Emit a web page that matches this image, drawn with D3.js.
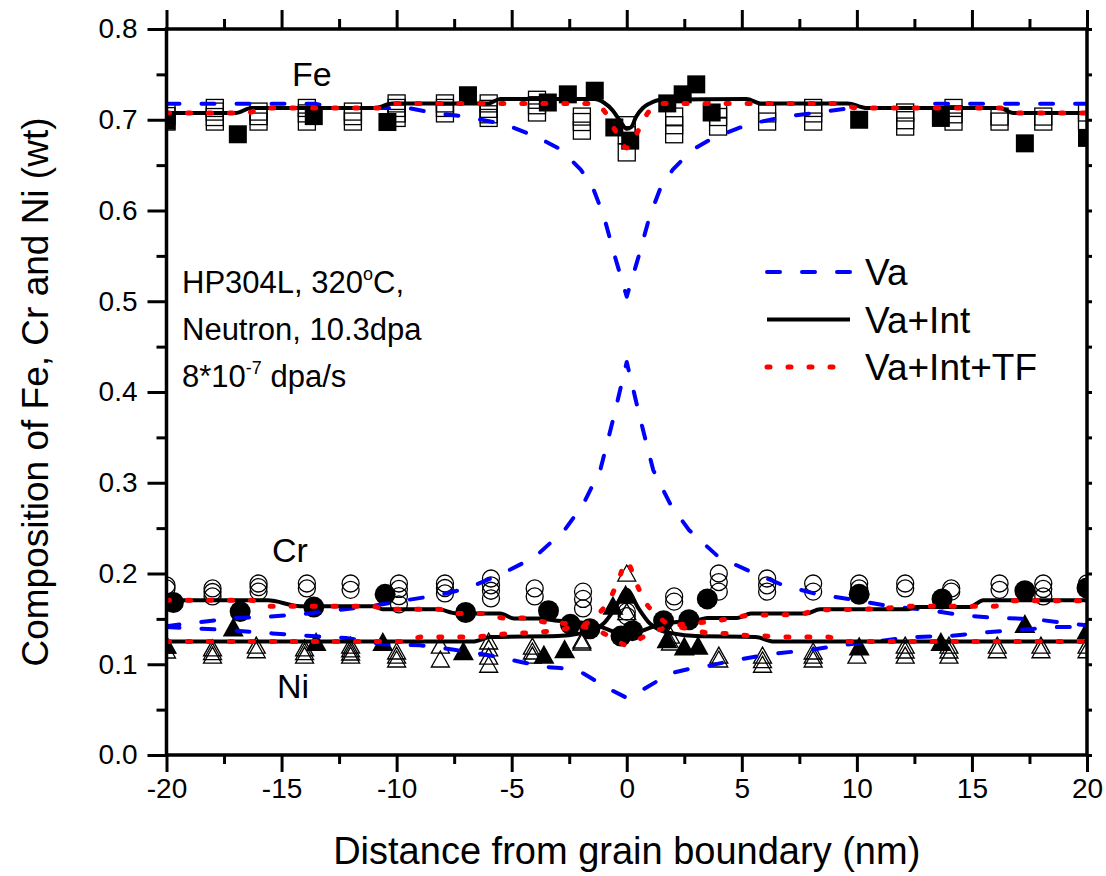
<!DOCTYPE html>
<html>
<head>
<meta charset="utf-8">
<script src="https://cdn.jsdelivr.net/npm/d3@7/dist/d3.min.js"></script>
<style>
  html, body { margin: 0; padding: 0; background: #fff; }
  svg text { font-family: "Liberation Sans", Arial, Helvetica, sans-serif; fill: #000; }
</style>
</head>
<body>
<svg id="chart" width="1106" height="876"></svg>
<script>
// ---- axis ticks ----
const xMajor = [-20, -15, -10, -5, 0, 5, 10, 15, 20];
const xMinor = [-17.5, -12.5, -7.5, -2.5, 2.5, 7.5, 12.5, 17.5];
const yMajor = [0, 0.1, 0.2, 0.3, 0.4, 0.5, 0.6, 0.7, 0.8];
const yMinor = [0.05, 0.15, 0.25, 0.35, 0.45, 0.55, 0.65, 0.75];

// ---- model profiles: [distance (nm), composition] ----
const feVa = [[-20,.7175],[-13.5,.7175],[-12.8,.713],[-9.5,.713],[-8.5,.708],[-6.9,.703],[-5.3,.695],[-3.9,.681],[-3,.669],[-2.5,.658],[-2,.645],[-1.5,.627],[-1,.594],[-0.5,.548],[0,.505],
  [0.5,.548],[1,.594],[1.5,.627],[2,.645],[2.5,.658],[3,.669],[3.75,.68],[5.3,.695],[6.8,.703],[8.3,.708],[9.8,.713],[12.4,.713],[13.3,.7175],[20,.7175]];
const feInt = [[-20,.7075],[-17,.7075],[-16.3,.713],[-10.9,.713],[-10.2,.718],[-6,.718],[-5.5,.723],[-1.4,.723],[-1,.719],[-0.6,.71],[-0.3,.699],[0,.69],[0.2,.692],[0.4,.703],[0.7,.713],[1,.718],[1.5,.722],[5.2,.723],[5.8,.718],[9.6,.718],[10.4,.713],[16.2,.713],[16.8,.7075],[20,.7075]];
const feTF = [[-20,.7075],[-16.5,.7075],[-15.8,.713],[-10.8,.713],[-10.2,.718],[-1.5,.718],[-0.9,.707],[-0.5,.688],[0,.669],[0.5,.688],[0.9,.707],[1.5,.718],[9.2,.718],[10,.713],[16.2,.713],[16.9,.7075],[20,.7075]];

const crVa = [[-20,.142],[-18.7,.146],[-17,.151],[-15.8,.152],[-14.2,.155],[-12.5,.16],[-11.3,.163],[-10,.169],[-8.2,.176],[-6.9,.184],[-5.4,.2],[-4,.218],[-2.7,.248],[-1.9,.276],[-1.15,.314],[-0.6,.369],[0,.433],
  [0.6,.369],[1.15,.314],[1.9,.276],[2.7,.248],[4,.218],[5.3,.203],[6.8,.187],[8.3,.177],[9.9,.171],[11.4,.164],[13,.16],[14.6,.154],[16,.151],[17.6,.15],[19.2,.145],[20,.143]];
const crInt = [[-20,.1705],[-15.6,.1705],[-14.2,.164],[-11,.164],[-10.6,.1605],[-8.2,.1605],[-7.4,.156],[-5.5,.156],[-4.9,.1505],[-3.8,.1505],[-3,.148],[-2,.146],[-1.5,.144],[-1,.14],[-0.5,.135],[0,.13],
  [0.5,.135],[1,.14],[1.5,.144],[2,.146],[3,.148],[3.5,.151],[4.8,.151],[5.4,.156],[7.8,.156],[8.4,.1605],[12.2,.1605],[12.6,.163],[14.9,.163],[15.5,.1705],[20,.1705]];
const crTF = [[-20,.1705],[-16.3,.1705],[-15.7,.164],[-11.1,.164],[-10.4,.1605],[-8.2,.1605],[-7.4,.156],[-6.4,.156],[-5.2,.1505],[-4.6,.151],[-3.7,.147],[-2.7,.145],[-2,.142],[-1,.134],[-0.5,.127],[0,.121],
  [0.5,.127],[1,.134],[2,.142],[2.7,.145],[3.7,.147],[4.6,.151],[5.4,.154],[7.5,.155],[8.3,.16],[10,.1605],[11.4,.162],[12.5,.164],[16,.164],[16.8,.17],[20,.17]];

const niVa = [[-20,.141],[-17.5,.138],[-15.4,.134],[-13.7,.131],[-12.2,.129],[-10.6,.122],[-9,.121],[-7.5,.116],[-6,.11],[-4.5,.102],[-3.5,.097],[-2.9,.096],[-1.9,.09],[-1.5,.084],[-0.7,.072],[0,.063],
  [0.7,.072],[1.5,.084],[1.9,.09],[2.9,.096],[3.5,.098],[4.6,.104],[6.2,.111],[8,.116],[9.3,.121],[10.8,.125],[12.4,.13],[14,.131],[15.5,.135],[17.1,.138],[18.7,.141],[20,.141]];
const niInt = [[-20,.125],[-6.7,.125],[-5.9,.13],[-3,.131],[-2,.134],[-1.5,.137],[-1,.145],[-0.5,.162],[0,.182],[0.5,.162],[1,.145],[1.5,.137],[2,.134],[3,.131],[5.6,.13],[6.4,.125],[20,.125]];
const niTF = [[-20,.125],[-9.6,.125],[-8.9,.13],[-6.8,.13],[-5.2,.1335],[-3.8,.1355],[-3.2,.137],[-2.5,.14],[-1.9,.143],[-1.4,.152],[-0.8,.169],[-0.4,.19],[0,.213],
  [0.4,.19],[0.8,.169],[1.4,.152],[1.9,.143],[2.5,.14],[3.8,.134],[4.4,.134],[5,.132],[6,.131],[7,.13],[8.7,.13],[9.4,.125],[20,.125]];

// ---- measured compositions: [distance, [values...]] for overlapping profiles ----
const feOpen = [[-20,[.709,.704,.698]],[-17.9,[.713,.709,.703,.698]],[-16,[.709,.704,.698]],[-13.9,[.713,.707,.698]],[-11.9,[.709,.704,.698]],
  [-10,[.718,.713,.707,.702]],[-7.9,[.718,.713,.707]],[-6,[.718,.712,.706,.702]],[-3.9,[.722,.716,.708]],[-1.95,[.7035,.6975,.688]],
  [0,[.694,.683,.664]],[2.06,[.7035,.694,.684]],[3.97,[.712,.703,.6925]],[6.1,[.707,.698]],[8.1,[.713,.707,.698]],[12.1,[.708,.6995,.6925]],
  [14.2,[.713,.706,.698]],[16.2,[.7035,.698]],[18.1,[.7035,.698]],[20,[.708,.698]]];
const feFilled = [[-20,.699],[-16.9,.684],[-13.6,.704],[-10.4,.6975],[-6.9,.727],[-3.43,.719],[-2.56,.728],[-1.39,.732],[-0.54,.6915],[0.15,.677],
  [1.76,.718],[2.43,.728],[3.02,.739],[3.69,.708],[10.1,.70],[13.65,.702],[17.3,.674],[20,.68]];

const crOpen = [[-20,[.1868,.1835]],[-18,[.1835,.1796,.1747]],[-16,[.189,.185,.18]],[-13.9,[.189,.1835]],[-12,[.189,.182]],
  [-9.9,[.189,.183,.175,.166]],[-7.9,[.189,.184,.178]],[-5.9,[.1945,.187,.181,.1725]],[-4,[.1835,.1747]],[-1.9,[.18,.172,.1615]],
  [0,[.158,.153]],[2.06,[.1747,.169]],[4,[.2,.1906,.18]],[6.1,[.1945,.187,.18]],[8.1,[.189,.18]],[10.1,[.189,.1835]],[12.1,[.189,.1835]],
  [14.1,[.1835,.18]],[16.2,[.189,.182]],[18.1,[.189,.183,.1747]],[20,[.189]]];
const crFilled = [[-19.7,.168],[-16.8,.158],[-13.6,.163],[-10.5,.177],[-7,.157],[-3.4,.159],[-2.45,.144],[-1.6,.139],[-0.25,.131],[0.25,.137],
  [1.6,.148],[2.7,.149],[3.5,.172],[10.1,.177],[13.7,.172],[17.3,.181],[20,.184]];

const niOpen = [[-20,[.1212,.1157]],[-18,[.118,.114,.11]],[-16.1,[.121,.116]],[-14,[.118,.114,.11]],[-12,[.121,.117,.1135,.11]],
  [-10,[.1146,.11,.1058]],[-8.1,[.121,.1058]],[-6,[.1256,.118,.109,.1]],[-4.1,[.12,.1146,.11]],[-1.95,[.1267,.1245]],
  [0,[.2005,.158]],[1.9,[.132,.1245]],[4,[.11,.1058]],[5.9,[.11,.105,.1]],[8.1,[.1146,.11,.1058]],[10,[.11]],[12.1,[.121,.1157,.11]],
  [14,[.121,.1157,.11]],[16.1,[.121,.116]],[18,[.121,.116]],[20,[.121,.116]]];
const niFilled = [[-20,.122],[-17.1,.141],[-13.5,.125],[-10.6,.125],[-7.1,.115],[-3.6,.111],[-2.7,.117],[-0.6,.165],[-0.05,.177],
  [1.75,.128],[2.5,.12],[3.1,.121],[10.1,.12],[13.65,.125],[17.3,.145],[20,.138]];

// ---- legend entries ----
const legendItems = [
  { label: "Va", color: "#0000ff", dash: "13,22", cap: "round", width: 4 },
  { label: "Va+Int", color: "#000000", dash: null, cap: "butt", width: 4 },
  { label: "Va+Int+TF", color: "#ff0000", dash: "3,18", cap: "round", width: 5 }
];

const svg = d3.select("#chart");
const W = 1106, H = 876;
const x = d3.scaleLinear().domain([-20, 20]).range([166.5, 1087]);
const y = d3.scaleLinear().domain([0, 0.8]).range([755, 29]);
const [xL, xR] = x.range();
const [yB, yT] = y.range();

svg.append("rect").attr("width", W).attr("height", H).attr("fill", "#fff");

svg.append("defs").append("clipPath").attr("id", "plotClip")
  .append("rect").attr("x", xL).attr("y", yT).attr("width", xR - xL).attr("height", yB - yT);

const plot = svg.append("g").attr("clip-path", "url(#plotClip)");

// ---- marker helpers ----
const flatten = groups => groups.flatMap(([d, vs]) => vs.map(v => [d, v]));
function squares(data, size, filled) {
  plot.append("g").selectAll("rect").data(data).join("rect")
    .attr("x", d => x(d[0]) - size / 2).attr("y", d => y(d[1]) - size / 2)
    .attr("width", size).attr("height", size)
    .attr("fill", filled ? "#000" : "none").attr("stroke", "#000").attr("stroke-width", filled ? 0 : 1.3);
}
function circles(data, r, filled) {
  plot.append("g").selectAll("circle").data(data).join("circle")
    .attr("cx", d => x(d[0])).attr("cy", d => y(d[1])).attr("r", r)
    .attr("fill", filled ? "#000" : "none").attr("stroke", "#000").attr("stroke-width", filled ? 0 : 1.3);
}
function triangles(data, w, h, filled) {
  plot.append("g").selectAll("path").data(data).join("path")
    .attr("d", d => {
      const cx = x(d[0]), cy = y(d[1]);
      return `M${cx},${cy - h / 2}L${cx + w / 2},${cy + h / 2}L${cx - w / 2},${cy + h / 2}Z`;
    })
    .attr("fill", filled ? "#000" : "none").attr("stroke", "#000").attr("stroke-width", filled ? 0 : 1.3);
}

// open symbols first, then filled ones
squares(flatten(feOpen), 17, false);
circles(flatten(crOpen), 8.5, false);
triangles(flatten(niOpen), 18, 16, false);
squares(feFilled, 18, true);
circles(crFilled, 10.5, true);
triangles(niFilled, 21, 19, true);

// ---- model curves ----
const line = d3.line().x(d => x(d[0])).y(d => y(d[1]));
function curve(data, item, smooth) {
  plot.append("path").datum(data)
    .attr("d", line.curve(smooth ? d3.curveMonotoneX : d3.curveLinear)(data))
    .attr("fill", "none").attr("stroke", item.color).attr("stroke-width", item.width)
    .attr("stroke-dasharray", item.dash).attr("stroke-linecap", item.cap).attr("stroke-linejoin", "round");
}
[feVa, crVa, niVa].forEach(s => curve(s, legendItems[0], false));
[feInt, crInt, niInt].forEach(s => curve(s, legendItems[1], true));
[feTF, crTF, niTF].forEach(s => curve(s, legendItems[2], true));

// ---- axes ----
function tidy(sel) {
  sel.select(".domain").remove();
  sel.selectAll("line").attr("stroke", "#000").attr("stroke-width", 3);
  sel.attr("font-family", null).attr("font-size", 28);
}
svg.append("g").attr("transform", `translate(0,${yB})`)
  .call(d3.axisBottom(x).tickValues(xMajor).tickSize(17).tickPadding(6).tickFormat(d => String(d))).call(tidy);
svg.append("g").attr("transform", `translate(0,${yB})`)
  .call(d3.axisBottom(x).tickValues(xMinor).tickSize(9).tickFormat("")).call(tidy);
svg.append("g").attr("transform", `translate(0,${yT})`)
  .call(d3.axisTop(x).tickValues(xMajor).tickSize(19).tickFormat("")).call(tidy);
svg.append("g").attr("transform", `translate(0,${yT})`)
  .call(d3.axisTop(x).tickValues(xMinor).tickSize(10).tickFormat("")).call(tidy);
svg.append("g").attr("transform", `translate(${xL},0)`)
  .call(d3.axisLeft(y).tickValues(yMajor).tickSize(19).tickPadding(10).tickFormat(d3.format(".1f"))).call(tidy);
svg.append("g").attr("transform", `translate(${xL},0)`)
  .call(d3.axisLeft(y).tickValues(yMinor).tickSize(10).tickFormat("")).call(tidy);
svg.append("g").attr("transform", `translate(${xR},0)`)
  .call(d3.axisRight(y).tickValues(yMajor.concat(yMinor)).tickSize(5).tickFormat("")).call(tidy);

svg.append("rect").attr("x", xL).attr("y", yT).attr("width", xR - xL).attr("height", yB - yT)
  .attr("fill", "none").attr("stroke", "#000").attr("stroke-width", 3.5);

// ---- axis titles ----
svg.append("text").attr("x", (xL + xR) / 2).attr("y", 864).attr("text-anchor", "middle")
  .attr("font-size", 38).text("Distance from grain boundary (nm)");
svg.append("text").attr("transform", `translate(48,${(yT + yB) / 2}) rotate(-90)`).attr("text-anchor", "middle")
  .attr("font-size", 37).text("Composition of Fe, Cr and Ni (wt)");

// ---- element labels ----
svg.append("text").attr("x", 292).attr("y", 86).attr("font-size", 34).text("Fe");
svg.append("text").attr("x", 272).attr("y", 562).attr("font-size", 34).text("Cr");
svg.append("text").attr("x", 277).attr("y", 698).attr("font-size", 34).text("Ni");

// ---- condition note ----
const note = svg.append("g").attr("font-size", 31);
const l1 = note.append("text").attr("x", 182).attr("y", 293);
l1.append("tspan").text("HP304L, 320");
l1.append("tspan").attr("dy", -13).attr("font-size", 18).text("o");
l1.append("tspan").attr("dy", 13).text("C,");
note.append("text").attr("x", 182).attr("y", 340).text("Neutron, 10.3dpa");
const l3 = note.append("text").attr("x", 182).attr("y", 387);
l3.append("tspan").text("8*10");
l3.append("tspan").attr("dy", -13).attr("font-size", 18).text("-7");
l3.append("tspan").attr("dy", 13).text(" dpa/s");

// ---- legend ----
const legend = svg.append("g");
legendItems.forEach((item, i) => {
  const ly = 272 + i * 47.5;
  legend.append("line").attr("x1", 767).attr("x2", 850).attr("y1", ly).attr("y2", ly)
    .attr("stroke", item.color).attr("stroke-width", item.width)
    .attr("stroke-dasharray", item.dash).attr("stroke-linecap", item.cap);
  legend.append("text").attr("x", 865).attr("y", ly + 13).attr("font-size", 37).text(item.label);
});
</script>
</body>
</html>
